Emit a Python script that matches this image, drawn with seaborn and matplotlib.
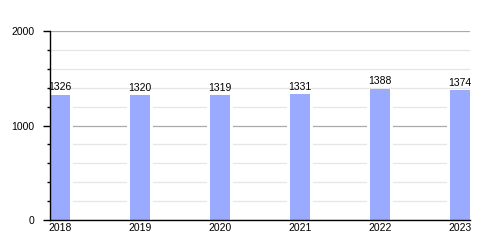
import matplotlib
matplotlib.use("Agg")
import matplotlib.pyplot as plt
import seaborn as sns
import pandas as pd
from matplotlib.ticker import MultipleLocator

years = ["2018", "2019", "2020", "2021", "2022", "2023"]
values = [1326, 1320, 1319, 1331, 1388, 1374]

df = pd.DataFrame({"year": years, "value": values})

sns.set_style("white")
plt.rcParams['font.family'] = ['Liberation Sans', 'DejaVu Sans']
plt.rcParams['text.color'] = 'black'
plt.rcParams['xtick.color'] = 'black'
plt.rcParams['ytick.color'] = 'black'

fig = plt.figure(figsize=(5, 2.5), dpi=100)
ax = fig.add_axes([0.1, 0.12, 0.84, 0.756])

# white halo behind bars (gridlines stop short of bars)
sns.barplot(data=df, x="year", y="value", color="white", width=0.33,
            saturation=1, ax=ax, zorder=2, linewidth=0)
sns.barplot(data=df, x="year", y="value", color="#99aaff", width=0.25,
            saturation=1, ax=ax, zorder=3, linewidth=0)

ax.set_xlim(-0.125, 5.125)
ax.set_ylim(0, 2000)
ax.yaxis.set_major_locator(MultipleLocator(1000))
ax.yaxis.set_minor_locator(MultipleLocator(200))
ax.grid(which="major", axis="y", color="#aaaaaa", linewidth=0.9, zorder=1)
ax.grid(which="minor", axis="y", color="#e6e6e6", linewidth=0.9, zorder=1)
ax.set_axisbelow(True)

for s in ["top", "right"]:
    ax.spines[s].set_visible(False)
for s in ["left", "bottom"]:
    ax.spines[s].set_color("black")
    ax.spines[s].set_linewidth(1.0)
    ax.spines[s].set_zorder(5)

ax.tick_params(axis="y", which="major", length=5, width=1, colors="black", labelsize=7.5, pad=6, left=True)
ax.tick_params(axis="y", which="minor", length=2.5, width=1, color="black", left=True)
ax.tick_params(axis="x", length=0, labelsize=7.5, pad=2, colors="black")
ax.set_xlabel("")
ax.set_ylabel("")

for i, v in enumerate(values):
    ax.text(i, v + 25, str(v), ha="center", va="bottom", fontsize=7.5, color="black", zorder=4)

fig.savefig("out.png", dpi=100)
